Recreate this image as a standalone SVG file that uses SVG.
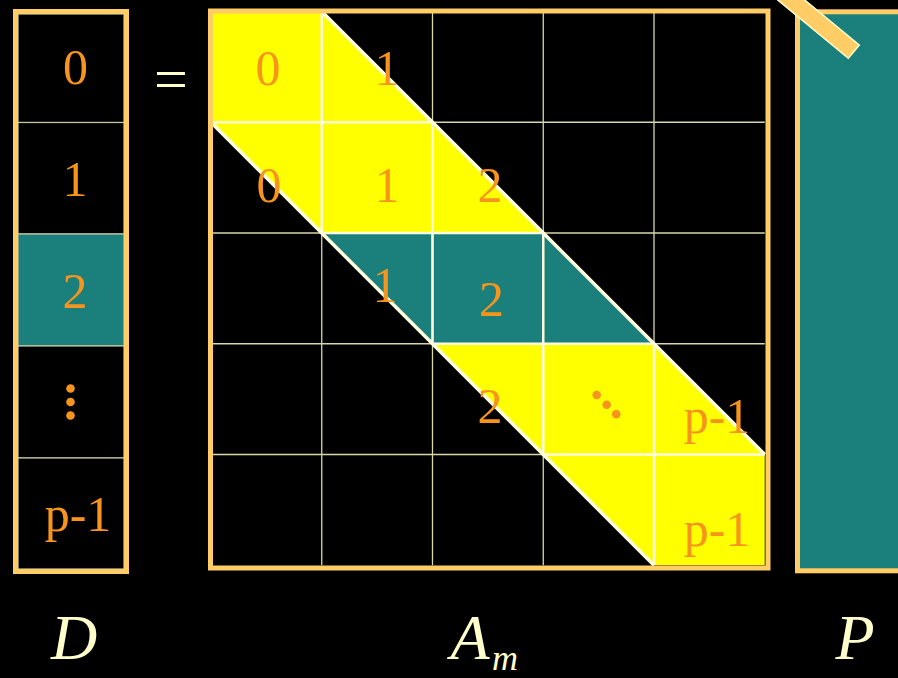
<svg xmlns="http://www.w3.org/2000/svg" width="898" height="678" viewBox="0 0 898 678">
<style>
.num{font-family:"Liberation Serif","Times New Roman",serif;font-size:50px;fill:#F7941E;text-anchor:middle}
.lab{font-family:"Liberation Serif","Times New Roman",serif;font-style:italic;fill:#FFFFCC;text-anchor:middle}
.frame{fill:none;stroke:#FFCC66;stroke-width:5}
.cell{stroke:#C8C8A0;stroke-width:1.2}
.gridOut{stroke:#D8D8AC;stroke-width:1.3;fill:none}
.gridIn{stroke:#FFFFE0;stroke-width:2.5;fill:none}
.edge{stroke:#FFFFE0;stroke-width:3.5;fill:none}
.dot{fill:#F7941E}
</style>
<defs>
<clipPath id="band"><polygon points="211,11.5 321.75,11.5 764.75,454.5 764.75,565.25 654,565.25 211,122.25"/></clipPath>
</defs>
<rect width="898" height="678" fill="#000"/>

<g id="D">
<rect class="cell" x="18" y="14" width="106" height="108.5" fill="#000"/>
<rect class="cell" x="18" y="122.5" width="106" height="111.5" fill="#000"/>
<rect class="cell" x="18" y="234" width="106" height="112" fill="#1B807C"/>
<rect class="cell" x="18" y="346" width="106" height="112" fill="#000"/>
<rect class="cell" x="18" y="458" width="106" height="111" fill="#000"/>
<rect class="frame" x="15.5" y="11.5" width="111" height="560"/>
<text class="num" x="75.5" y="84">0</text>
<text class="num" x="75" y="196">1</text>
<text class="num" x="75" y="308">2</text>
<circle class="dot" cx="70.5" cy="388.5" r="4.3"/>
<circle class="dot" cx="70.5" cy="402" r="4.3"/>
<circle class="dot" cx="70.5" cy="415.5" r="4.3"/>
<text class="num" x="78" y="531">p-1</text>
</g>

<g id="equals">
<text x="171" y="99" font-family="Liberation Serif, serif" font-size="60" fill="#FFFFCC" text-anchor="middle">=</text>
</g>

<g id="Am">
<polygon fill="#FFFF00" points="211,11.5 321.75,11.5 764.75,454.5 764.75,565.25 654,565.25 211,122.25"/>
<polygon fill="#1B807C" points="321.75,233 543.25,233 654,343.75 432.5,343.75"/>
<g class="gridOut">
<path d="M321.75 11.5V565.25M432.5 11.5V565.25M543.25 11.5V565.25M654 11.5V565.25M211 122.25H764.75M211 233H764.75M211 343.75H764.75M211 454.5H764.75"/>
</g>
<g class="gridIn" clip-path="url(#band)">
<path d="M321.75 11.5V565.25M432.5 11.5V565.25M543.25 11.5V565.25M654 11.5V565.25M211 122.25H764.75M211 233H764.75M211 343.75H764.75M211 454.5H764.75"/>
</g>
<path class="edge" d="M321.75 11.5L764.75 454.5M211 122.25L654 565.25"/>
<rect class="frame" x="210.5" y="11" width="557.5" height="557"/>
<text class="num" x="268" y="85">0</text>
<text class="num" x="387" y="85">1</text>
<text class="num" x="269" y="202">0</text>
<text class="num" x="387" y="202">1</text>
<text class="num" x="490" y="202">2</text>
<text class="num" x="385" y="302">1</text>
<text class="num" x="491.5" y="316">2</text>
<text class="num" x="490" y="423">2</text>
<circle class="dot" cx="596.7" cy="395" r="4.3"/>
<circle class="dot" cx="606.7" cy="404.7" r="4.3"/>
<circle class="dot" cx="616.3" cy="414.3" r="4.3"/>
<text class="num" x="717" y="433">p-1</text>
<text class="num" x="717" y="546">p-1</text>
</g>

<g id="P">
<rect x="797.5" y="11.8" width="120" height="559" fill="#1B807C" stroke="#FFCC66" stroke-width="5"/>
<polygon points="761.5,-13.4 772.5,-26.6 859.3,45.1 848.3,58.3" fill="#FFCC66" stroke="#FFFFCC" stroke-width="1.5"/>
</g>

<g id="labels">
<text class="lab" x="74" y="659" font-size="64">D</text>
<text class="lab" x="470" y="659" font-size="64">A</text>
<text class="lab" x="505" y="670" font-size="36">m</text>
<text class="lab" x="855" y="659" font-size="64">P</text>
</g>
</svg>
